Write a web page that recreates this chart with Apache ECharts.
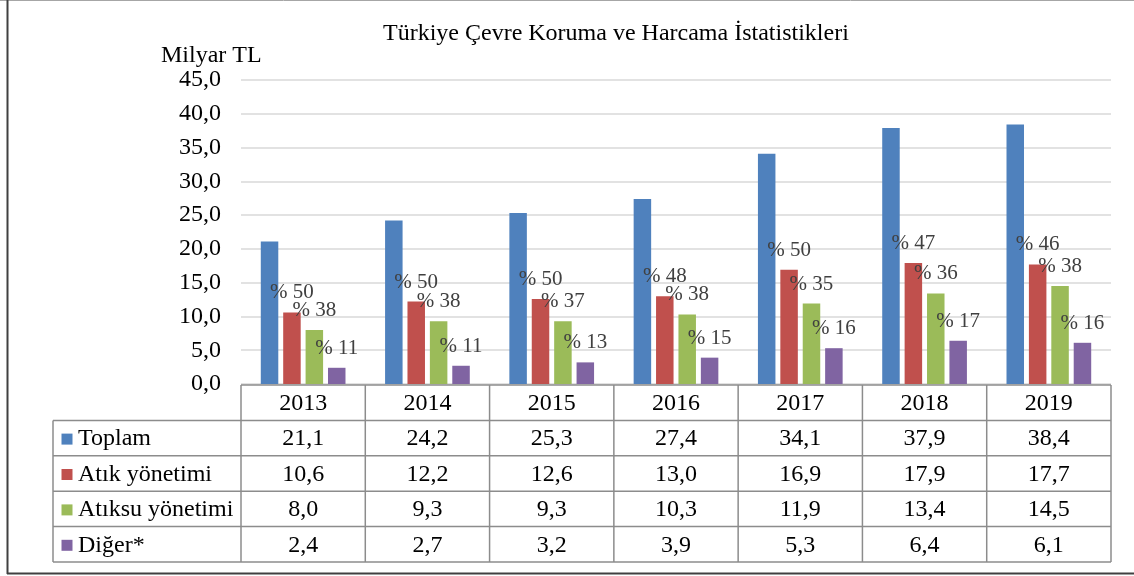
<!DOCTYPE html>
<html>
<head>
<meta charset="utf-8">
<script src="https://cdn.jsdelivr.net/npm/echarts@6/dist/echarts.min.js"></script>
<style>html,body{margin:0;padding:0;background:#fff;}#c{width:1134px;height:576px;}</style>
</head>
<body>
<div id="c"></div>
<script>
const categories = ['2013', '2014', '2015', '2016', '2017', '2018', '2019'];
const toplam = [21.1, 24.2, 25.3, 27.4, 34.1, 37.9, 38.4];
const atik = [10.6, 12.2, 12.6, 13.0, 16.9, 17.9, 17.7];
const atiksu = [8.0, 9.3, 9.3, 10.3, 11.9, 13.4, 14.5];
const diger = [2.4, 2.7, 3.2, 3.9, 5.3, 6.4, 6.1];
const pctAtik = [50, 50, 50, 48, 50, 47, 46];
const pctAtiksu = [38, 38, 37, 38, 35, 36, 38];
const pctDiger = [11, 11, 13, 15, 16, 17, 16];
const seriesNames = ['Toplam', 'Atık yönetimi', 'Atıksu yönetimi', 'Diğer*'];
const colors = ['#4F81BD', '#C0504D', '#9BBB59', '#8064A2'];
const yMin = 0, yMax = 45, yStep = 5;

const FONT = 'Liberation Serif';
const fmt = v => v.toFixed(1).replace('.', ',');

const chart = echarts.init(document.getElementById('c'), null, {renderer: 'canvas'});

function mkSeries(name, data, color, pct) {
  const s = {
    name: name, type: 'bar', data: data, barWidth: 17.5, barGap: '28%',
    itemStyle: {color: color},
    emphasis: {disabled: true},
    animation: false
  };
  if (pct) {
    s.label = {
      show: true, position: 'top', distance: 9,
      fontFamily: FONT, fontSize: 21, color: '#404040',
      formatter: p => '% ' + pct[p.dataIndex]
    };
  }
  return s;
}

chart.setOption({
  animation: false,
  title: [
    {text: 'Türkiye Çevre Koruma ve Harcama İstatistikleri', left: 383, top: 22, padding: 0,
     textStyle: {fontFamily: FONT, fontSize: 24, fontWeight: 'normal', color: '#000'}},
    {text: 'Milyar TL', left: 161, top: 44, padding: 0,
     textStyle: {fontFamily: FONT, fontSize: 24, fontWeight: 'normal', color: '#000'}}
  ],
  grid: {left: 241, right: 23, top: 80, bottom: 192, containLabel: false},
  xAxis: {type: 'category', data: categories, axisLine: {show: false}, axisTick: {show: false}, axisLabel: {show: false}},
  yAxis: {
    type: 'value', min: yMin, max: yMax, interval: yStep,
    axisLine: {show: false}, axisTick: {show: false},
    axisLabel: {formatter: v => fmt(v), fontFamily: FONT, fontSize: 24, color: '#000', margin: 20},
    splitLine: {lineStyle: {color: '#d9d9d9', width: 1.5}}
  },
  series: [
    mkSeries(seriesNames[0], toplam, colors[0], null),
    mkSeries(seriesNames[1], atik, colors[1], pctAtik),
    mkSeries(seriesNames[2], atiksu, colors[2], pctAtiksu),
    mkSeries(seriesNames[3], diger, colors[3], pctDiger)
  ]
});

// Data table built from axis scale positions
const rowsData = [toplam, atik, atiksu, diger];
const c0 = chart.convertToPixel({xAxisIndex: 0}, 0);
const c1 = chart.convertToPixel({xAxisIndex: 0}, 1);
const band = c1 - c0;
const xStart = c0 - band / 2;
const xEnd = xStart + band * categories.length;
const yTop = chart.convertToPixel({yAxisIndex: 0}, 0) + 1;
const rowH = 35.4;
const labelLeft = 53;
const lineStyle = {stroke: '#8c8c8c', lineWidth: 1.5};
const g = [];
function hline(x1, x2, y) { g.push({type: 'line', shape: {x1: x1, y1: y, x2: x2, y2: y}, style: lineStyle, silent: true}); }
function vline(x, y1, y2) { g.push({type: 'line', shape: {x1: x, y1: y1, x2: x, y2: y2}, style: lineStyle, silent: true}); }
function txt(x, y, s, align) {
  g.push({type: 'text', x: x, y: y, silent: true,
    style: {text: s, fontFamily: FONT, fontSize: 24, fill: '#000', align: align || 'center', verticalAlign: 'middle'}});
}
const yBottom = yTop + rowH * 5;
hline(xStart, xEnd, yTop);
for (let r = 1; r <= 5; r++) hline(labelLeft, xEnd, yTop + rowH * r);
vline(labelLeft, yTop + rowH, yBottom);
for (let i = 0; i <= categories.length; i++) vline(xStart + band * i, yTop, yBottom);
categories.forEach((c, i) => txt(xStart + band * (i + 0.5), yTop + rowH * 0.5 + 1, c));
rowsData.forEach((arr, r) => {
  const cy = yTop + rowH * (r + 1.5) + 1;
  g.push({type: 'rect', shape: {x: 61.5, y: cy - 5.5, width: 11, height: 11}, style: {fill: colors[r]}, silent: true});
  txt(78, cy, seriesNames[r], 'left');
  arr.forEach((v, i) => txt(xStart + band * (i + 0.5), cy, fmt(v)));
});
g.push({type: 'line', shape: {x1: 0, y1: 0.5, x2: 1134, y2: 0.5}, style: {stroke: '#a6a6a6', lineWidth: 1}, silent: true});
g.push({type: 'line', shape: {x1: 7.5, y1: 0, x2: 7.5, y2: 574}, style: {stroke: '#404040', lineWidth: 2}, silent: true});
g.push({type: 'line', shape: {x1: 7, y1: 573.5, x2: 1134, y2: 573.5}, style: {stroke: '#404040', lineWidth: 2}, silent: true});
chart.setOption({graphic: g});
</script>
</body>
</html>
